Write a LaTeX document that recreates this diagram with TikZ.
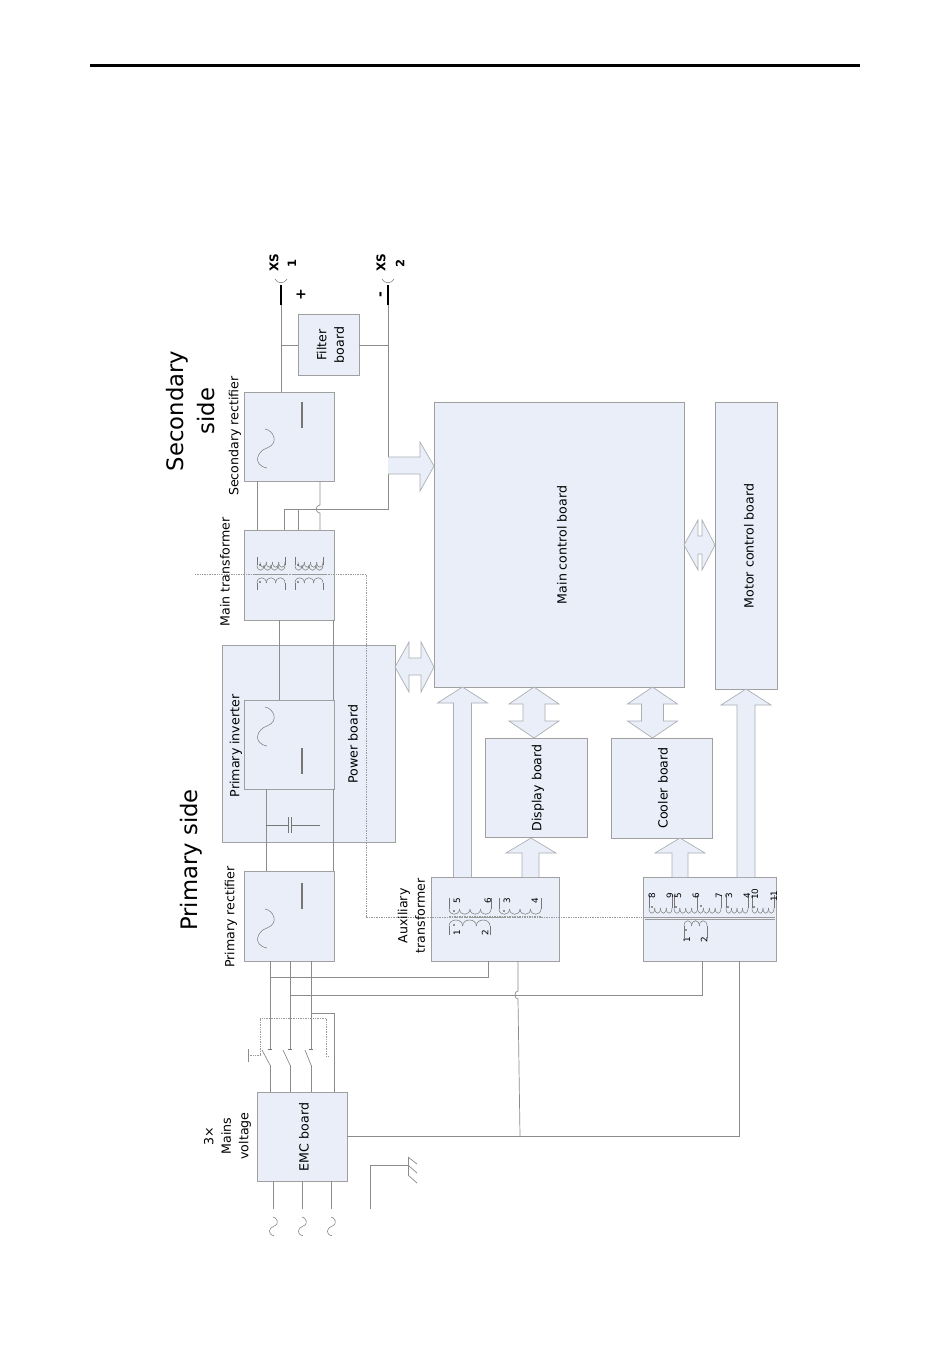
\documentclass[tikz,border=0pt]{standalone}
\usepackage{fontspec}
\setmainfont{DejaVu Sans}
\tikzset{
 x=1pt,y=-1pt,
 box/.style={draw=bx,fill=bf,line width=.8pt,inner sep=0pt,outer sep=0pt},
 wire/.style={draw=wc,line width=.7pt},
 dwire/.style={draw=dc,line width=.7pt,densely dotted},
 sym/.style={draw=sc,line width=.5pt},
 harrow/.style={draw=ac,fill=bf,line width=.7pt,line join=miter},
 lab/.style={rotate=90,inner sep=0pt,align=center,font=\fontsize{12.6}{17.5}\selectfont,text=black},
 biglab/.style={rotate=90,inner sep=0pt,align=center,font=\fontsize{22.7}{31}\selectfont,text=black},
 small/.style={rotate=90,inner sep=0pt,font=\fontsize{8.8}{9}\selectfont,text=black},
 xs/.style={rotate=90,inner sep=0pt,font=\bfseries\fontsize{12}{12}\selectfont,text=black},
}
\definecolor{bx}{HTML}{A0A0A0}
\definecolor{bf}{HTML}{E9EEF8}
\definecolor{wc}{HTML}{8C8C8C}
\definecolor{dc}{HTML}{9A9A9A}
\definecolor{sc}{HTML}{767676}
\definecolor{ac}{HTML}{ABAFB6}
\newcommand\bx[5]{\node[box,minimum width={(#4-#2)*1pt},minimum height={(#5-#3)*1pt}] (#1) at ({(#2+#4)/2},{(#3+#5)/2}) {};}
\newcommand\sinew[3]{\draw[sym,shift={(#1,#2)},scale=#3] (0,0) .. controls (8,1) and (15,14) .. (2,19) .. controls (-8,22) and (-13,36) .. (2,39);}
\newcommand\coil[6]{%
 \pgfmathsetmacro\cw{(#2-#1)/#5}%
 \draw[sym] (#1,#3) -- (#1,#4);\draw[sym] (#2,#3) -- (#2,#4);%
 \foreach \i in {1,...,#5}{%
  \pgfmathsetmacro\xa{#1+(\i-1)*\cw}\pgfmathsetmacro\xb{\xa+\cw}%
  \draw[sym] (\xa,#4) .. controls (\xa,{#4+(#6)}) and (\xb,{#4+(#6)}) .. (\xb,#4);}}
\newcommand\dotm[2]{\fill[black!80] (#1,#2) circle (.9pt);}
\newcommand\uparr[3]{\draw[harrow] (#1-9,#3) -- (#1-9,#2+16) -- (#1-25,#2+16) -- (#1,#2) -- (#1+25,#2+16) -- (#1+9,#2+16) -- (#1+9,#3);}
\newcommand\updown[3]{\draw[harrow] (#1-11,#3-17) -- (#1-25,#3-17) -- (#1,#3) -- (#1+25,#3-17) -- (#1+11,#3-17) -- (#1+11,#2+17) -- (#1+25,#2+17) -- (#1,#2) -- (#1-25,#2+17) -- (#1-11,#2+17) -- cycle;}
\begin{document}
\begin{tikzpicture}
\useasboundingbox (0,0) rectangle (950,1369);
\fill[white] (0,0) rectangle (950,1369);
\coordinate (ruleL) at (90,65); \coordinate (ruleR) at (860,65);
\draw[black,line width=3pt] (ruleL) -- (ruleR);
% boxes
\bx{power}{222}{645}{395}{842}
\bx{sr}{244}{392}{334}{481}
\bx{filter}{298}{314}{359}{375}
\bx{mt}{244}{530}{334}{620}
\bx{pi}{244}{700}{334}{789}
\bx{pr}{244}{871}{334}{961}
\bx{emc}{257}{1092}{347}{1181}
\bx{mcb}{434}{402}{684}{687}
\bx{motor}{715}{402}{777}{689}
\bx{disp}{485}{738}{587}{837}
\bx{cool}{611}{738}{712}{838}
\bx{aux}{431}{877}{559}{961}
\bx{ctl}{643}{877}{776}{961}
% coordinates
\coordinate (xa) at (281,0); \coordinate (xb) at (388,0);
\coordinate (k1) at (257,0); \coordinate (k2) at (284,0); \coordinate (k3) at (298,0); \coordinate (k4) at (320,0);
\coordinate (m1) at (279,0); \coordinate (m2) at (333,0);
\coordinate (n1) at (266,0);
\coordinate (s1) at (270,0); \coordinate (s2) at (290,0); \coordinate (s3) at (311,0); \coordinate (s4) at (334,0);
\coordinate (v1) at (488,0); \coordinate (v2) at (518,0); \coordinate (v3) at (702,0); \coordinate (v4) at (739,0);
\coordinate (ya) at (0,509); \coordinate (yb) at (0,345);
\coordinate (y1) at (0,977); \coordinate (y2) at (0,995); \coordinate (y3) at (0,1136); \coordinate (y4) at (0,1013);
\coordinate (xs1t) at (281,305); \coordinate (xs1e) at (281,285);
\coordinate (xs2t) at (388,305); \coordinate (xs2e) at (388,285);
% wires secondary
\draw[wire] (xs1t) -- (xa |- sr.north);
\draw[wire] (xa |- yb) -- (filter.west |- yb);
\draw[wire] (filter.east |- yb) -- (xb |- yb);
\draw[wire] (xs2t) -- (xb |- ya) -- (k2 |- ya) -- (k2 |- mt.north);
\draw[wire] (k3 |- ya) -- (k3 |- mt.north);
\draw[wire] (k1 |- sr.south) -- (k1 |- mt.north);
\draw[wire] (k4 |- sr.south) -- (320,505) .. controls (315,505) and (315,513) .. (320,513) -- (k4 |- mt.north);
\draw[black,line width=2.6pt] (xs1t) -- (xs1e);
\draw[black,line width=2.6pt] (xs2t) -- (xs2e);
\draw[sym] (275,279) .. controls (277,284) and (285,284) .. (287,279);
\draw[sym] (382,279) .. controls (384,284) and (392,284) .. (394,279);
% primary wires
\draw[wire] (m1 |- mt.south) -- (m1 |- pi.north);
\draw[wire] (m2 |- mt.south) -- (m2 |- pi.north);
\draw[wire] (n1 |- pi.south) -- (n1 |- pr.north);
\draw[wire] (m2 |- pi.south) -- (m2 |- pr.north);
% capacitor
\draw[sym] (266,825) -- (288,825) (291,825) -- (320,825);
\draw[sym] (288,817) -- (288,833) (291,817) -- (291,833);
% dotted control line
\coordinate (d0) at (195,574); \coordinate (d1) at (366,574); \coordinate (d2) at (366,917); \coordinate (d3) at (775,917);
\draw[dwire] (d0) -- (d1) -- (d2) -- (d3);
% mains
\draw[wire] (s1 |- pr.south) -- (270,1049); \draw[wire] (270,1065) -- (s1 |- emc.north);
\draw[wire] (s2 |- pr.south) -- (290,1049); \draw[wire] (290,1065) -- (s2 |- emc.north);
\draw[wire] (s3 |- pr.south) -- (311,1049); \draw[wire] (311,1065) -- (s3 |- emc.north);
\draw[wire] (262,1050) -- (270,1065); \draw[wire] (283,1050) -- (290,1065); \draw[wire] (305,1050) -- (311,1065);
\draw[sym] (268,1049) -- (272,1049) (288,1049) -- (292,1049) (309,1049) -- (313,1049);
\draw[wire] (s3 |- y4) -- (s4 |- y4) -- (s4 |- emc.north);
\draw[dwire] (260,1055) -- (260,1018) -- (326,1018) -- (326,1056) -- (329,1056);
\draw[dwire] (248,1055) -- (260,1055);
\draw[wire] (248,1049) -- (248,1062);
\draw[wire] (s1 |- y1) -- (v1 |- y1) -- (v1 |- aux.south);
\draw[wire] (s2 |- y2) -- (v3 |- y2) -- (v3 |- ctl.south);
\draw[wire] (v2 |- aux.south) -- (518,991) .. controls (514,991) and (514,999) .. (518,999) -- (520,1136);
\draw[wire] (emc.east |- y3) -- (v4 |- y3) -- (v4 |- ctl.south);
% EMC input
\coordinate (i1) at (273,1209); \coordinate (i2) at (302,1209); \coordinate (i3) at (331,1209);
\draw[wire] (i1 |- emc.south) -- (i1);
\draw[wire] (i2 |- emc.south) -- (i2);
\draw[wire] (i3 |- emc.south) -- (i3);
\sinew{273}{1217}{.48}\sinew{302}{1217}{.48}\sinew{331}{1217}{.48}
% ground
\coordinate (g0) at (370,1209); \coordinate (g1) at (370,1165); \coordinate (g2) at (408,1165);
\draw[wire] (g0) -- (g1) -- (g2);
\draw[wire] (408,1157) -- (408,1175);
\draw[wire] (408,1157) -- (417,1164) (408,1165) -- (417,1173) (408,1175) -- (417,1183);
% block arrows
\draw[harrow] (388,457) -- (420,457) -- (420,442) -- (434,466) -- (420,491) -- (420,474) -- (388,474);
\draw[harrow] (395,667) -- (409,642) -- (409,658) -- (421,658) -- (421,642) -- (434,667) -- (421,692) -- (421,675) -- (409,675) -- (409,692) -- cycle;
\draw[harrow] (684,545) -- (698,520) -- (698,536) -- (702,536) -- (702,520) -- (715,545) -- (702,570) -- (702,554) -- (698,554) -- (698,570) -- cycle;
\uparr{462.5}{687}{877}
\uparr{746}{689}{877}
\updown{534}{687}{738}
\updown{652.5}{687}{738}
\draw[harrow] (522,877) -- (522,853) -- (506,853) -- (531,838) -- (556,853) -- (539,853) -- (539,877);
\draw[harrow] (672,877) -- (672,853) -- (655,853) -- (680,838) -- (705,853) -- (688,853) -- (688,877);
% rectifier symbols
\sinew{265}{429}{1}\draw[sym,line width=1.1pt] (302,402) -- (302,428);
\sinew{265}{707}{1}\draw[sym,line width=1.1pt] (302,748) -- (302,774);
\sinew{265}{909}{1}\draw[sym,line width=1.1pt] (302,883) -- (302,909);
% main transformer symbol
\coil{257}{285}{557}{565}{4}{7}
\coil{260}{285}{562}{562}{4}{7}
\coil{257}{285}{590}{583}{3}{-7}
\coil{295}{323}{557}{565}{4}{7}
\coil{298}{323}{562}{562}{4}{7}
\coil{295}{323}{590}{583}{3}{-7}
\draw[draw=dc,line width=.8pt] (254,574.5) -- (287,574.5) (293,574.5) -- (327,574.5);
\dotm{260}{565}\dotm{260}{582}\dotm{298}{565}\dotm{298}{582}
% aux transformer symbol
\coil{449}{491}{898}{909}{4}{7}
\coil{499}{541}{898}{909}{4}{7}
\coil{449}{490}{935}{926}{3}{-8}
\draw[draw=dc,line width=1.5pt,densely dotted] (449,917) -- (541,917);
\dotm{454}{911}\dotm{504}{911}\dotm{454}{925}
\foreach \t/\x/\y/\n in {5/457/901/a5,6/488/901/a6,3/507/901/a3,4/535/901/a4,1/457/933/a1,2/485/933/a2}
  \node[small] (\n) at (\x,\y) {\t};
% control transformer symbol
\coil{649}{672}{895}{908}{4}{7}
\coil{674}{721}{895}{908}{8}{7}
\draw[sym] (697,895) -- (697,908);
\coil{726}{748}{895}{908}{4}{7}
\coil{752}{774}{895}{908}{4}{7}
\coil{684}{707}{938}{926}{3}{-7}
\draw[draw=dc,line width=.6pt] (645,917) -- (775,917) (645,919) -- (775,919);
\dotm{652}{907}\dotm{676}{907}\dotm{701}{906}\dotm{728}{907}\dotm{754}{907}\dotm{686}{930}
\foreach \t/\x/\y/\n in {8/652/896/c8,9/670/896/c9,5/678/896/c5,6/696/896/c6,7/719/896/c7,3/729/896/c3,4/747/896/c4,10/755/894/c10,11/774/896/c11,1/687/940/c1,2/704/940/c2}
  \node[small] (\n) at (\x,\y) {\t};
% labels
\node[lab] (tfilter) at (330.5,345) {Filter\\board};
\node[lab] (tsr) at (235,436) {Secondary rectifier};
\node[lab] (tmt) at (225,572) {Main transformer};
\node[lab] (tpi) at (236,746) {Primary inverter};
\node[lab] (tpow) at (353,744) {Power board};
\node[lab] (tpr) at (231,917) {Primary rectifier};
\node[lab] (temc) at (304,1137) {EMC board};
\node[lab] (tmains) at (227.5,1136) {3×\\Mains\\voltage};
\node[lab] (taux) at (411.5,916) {Auxiliary\\transformer};
\node[lab] (tdisp) at (538,788) {Display board};
\node[lab] (tcool) at (663,788) {Cooler board};
\node[lab] (tmcb) at (562,545) {Main control board};
\node[lab] (tmotor) at (749,546) {Motor control board};
\node[biglab] (tsec) at (191,411) {Secondary\\side};
\node[biglab] (tpri) at (191,860) {Primary side};
\node[xs] (x1a) at (274,263) {XS};
\node[xs,font=\bfseries\fontsize{11.5}{10}\selectfont] (x1b) at (292,263) {1};
\node[xs] (x2a) at (381,263) {XS};
\node[xs,font=\bfseries\fontsize{11.5}{10}\selectfont] (x2b) at (400,263) {2};
\node[xs,font=\bfseries\fontsize{14}{14}\selectfont] (plus) at (301,295) {+};
\node[xs,font=\bfseries\fontsize{14}{14}\selectfont] (minus) at (382,295) {-};
\end{tikzpicture}
\end{document}
